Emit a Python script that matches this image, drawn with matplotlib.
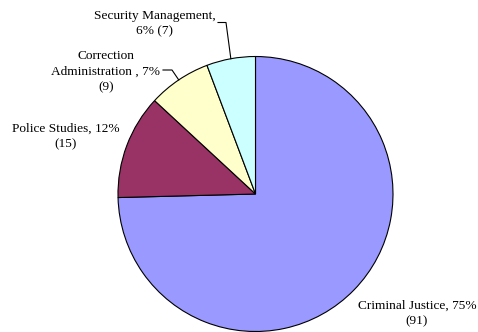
import numpy as np
import matplotlib
matplotlib.use("Agg")
import matplotlib.pyplot as plt

programs = ["Criminal Justice", "Police Studies", "Correction\nAdministration ", "Security Management"]
counts = [91, 15, 9, 7]
colors = ["#9999FF", "#993366", "#FFFFCC", "#CCFFFF"]

W, H = 478, 332
fig = plt.figure(figsize=(W / 100, H / 100), dpi=100)
ax = fig.add_axes([0, 0, 1, 1])

cx, cy, r = 255.5, H - 194, 137.5
wedges, _ = ax.pie(counts, colors=colors, startangle=90, counterclock=False,
                   center=(cx, cy), radius=r, frame=True,
                   wedgeprops=dict(edgecolor="black", linewidth=0.8))
ax.set_xlim(0, W)
ax.set_ylim(0, H)
ax.set_aspect("equal")
ax.axis("off")

total = sum(counts)
pct = [round(100 * c / total) for c in counts]
font = dict(family="Liberation Serif", fontsize=9.6, color="black",
            ha="center", va="center", linespacing=1.38)

def edge_point(w):
    a = np.deg2rad((w.theta1 + w.theta2) / 2)
    return cx + r * np.cos(a), cy + r * np.sin(a)

# Criminal Justice
ax.text(417, H - 313.5, f"{programs[0]}, {pct[0]}%\n({counts[0]})", **font)
# Police Studies
ax.text(66, H - 136.5, f"{programs[1]}, {pct[1]}%\n({counts[1]})", **font)
# Correction Administration
ax.text(106, H - 71.5, f"{programs[2]}, {pct[2]}%\n({counts[2]})", **font)
ex, ey = edge_point(wedges[2])
ax.plot([163, 172, ex], [H - 70, H - 70, ey], color="black", lw=0.8)
# Security Management
ax.text(155, H - 23.5, f"{programs[3]},\n{pct[3]}% ({counts[3]})", **font)
ex, ey = edge_point(wedges[3])
ax.plot([218, 226, ex], [H - 22.5, H - 22.5, ey], color="black", lw=0.8)

fig.savefig("out.png", dpi=100, facecolor="white")
